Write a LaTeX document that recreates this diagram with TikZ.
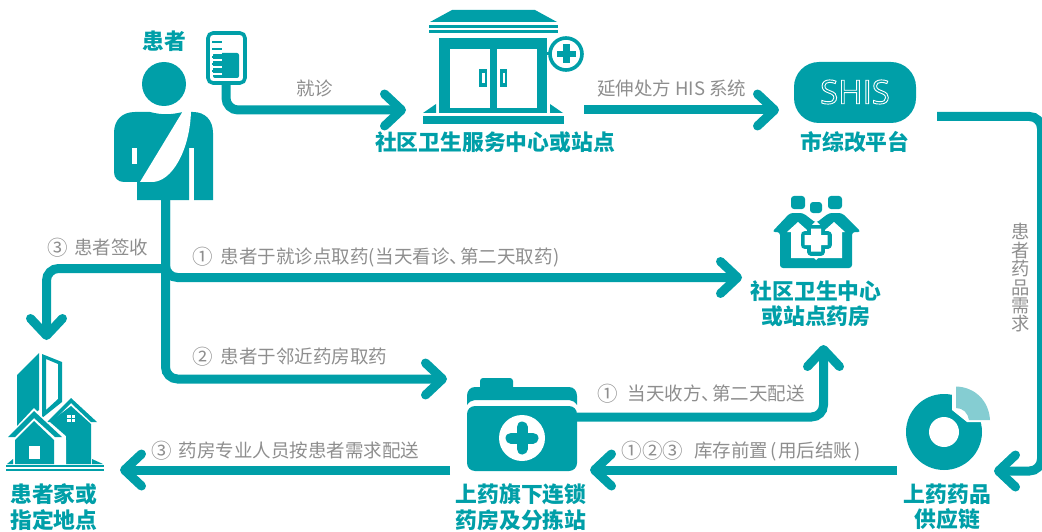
\documentclass[tikz,border=0pt]{standalone}
\usepackage{fontspec}
\setmainfont{Noto Sans CJK SC}
\newfontfamily\shisfont{Open Sans}
\usetikzlibrary{arrows.meta}
\definecolor{teal1}{HTML}{009FA8}
\definecolor{teal2}{HTML}{85CDD2}
\definecolor{gray1}{HTML}{8E8E8E}
\newcommand{\nb}[1]{\raisebox{-.8pt}{\fontsize{20.5}{20.5}\selectfont #1}}
\newcommand{\dun}{\makebox[10.5pt][l]{、}}
\newcommand{\crosspath}{(811,228.5) -- (821,228.5) -- (821,235) -- (827.5,235) -- (827.5,245) -- (821,245) -- (821,251.5) -- (811,251.5) -- (811,245) -- (804.5,245) -- (804.5,235) -- (811,235) -- cycle}
\tikzset{
  flow/.style={draw=teal1,line width=9pt,rounded corners=12pt,-{Straight Barb[length=17pt,width=32pt,round]}},
  plain/.style={draw=teal1,line width=9pt,rounded corners=12pt},
  title/.style={font=\bfseries\fontsize{21.8}{25.5}\selectfont,text=teal1,align=center,inner sep=0pt},
  note/.style={font=\fontsize{18.5}{20}\selectfont,text=gray1,inner sep=0pt,anchor=west},
  ico/.style={fill=teal1,draw=none},
  hole/.style={fill=white,draw=none}
}
\begin{document}
\begin{tikzpicture}[x=1pt,y=-1pt]
  \useasboundingbox (0,0) rectangle (1042,532);
  \coordinate (bagout) at (226,85);
  \coordinate (clinicin) at (406,110);
  \coordinate (clinicout) at (584,110);
  \coordinate (shisin) at (779,110);
  \coordinate (shisout) at (937,116.5);
  \coordinate (turn) at (1041.5,116.5);
  \coordinate (chainin) at (994,471);
  \coordinate (chainout) at (897,470);
  \coordinate (footout) at (165.5,200);
  \coordinate (forkup) at (165.5,268.5);
  \coordinate (homein) at (46.5,340);
  \coordinate (pharmin) at (742,277.5);
  \coordinate (drugin) at (447,379);
  \coordinate (drugout) at (577,417);
  \coordinate (pharmup) at (823.5,345);
  \coordinate (drugin2) at (590,470);
  \coordinate (drugleft) at (450,470);
  \coordinate (homeright) at (120,470);

  \draw[plain] (footout) -- (forkup);
  \draw[flow] (forkup) -| (homein);
  \draw[flow] (footout) |- (pharmin);
  \draw[flow] (footout) |- (drugin);
  \draw[flow] (bagout) |- (clinicin);
  \draw[flow] (clinicout) -- (shisin);
  \draw[flow] (shisout) -- (turn) |- (chainin);
  \draw[flow] (drugout) -| (pharmup);
  \draw[flow] (chainout) -- (drugin2);
  \draw[flow] (drugleft) -- (homeright);

  \fill[ico] (164,84) circle (22);
  \fill[ico] (137,200) -- (137,182) -- (124,182) .. controls (118,182) and (114,178) .. (114,172)
    -- (114,133) .. controls (114,120) and (122,112) .. (135,112) -- (150,112)
    .. controls (162,115) and (170,115) .. (183,112) -- (193,112)
    .. controls (205,112) and (213,120) .. (213,133) -- (213,200) -- (194,200) -- (194,148)
    -- (189,148) -- (189,200) -- cycle;
  \fill[hole] (132,148) rectangle (137,164);
  \fill[hole] (183,111) -- (191,111) .. controls (190,150) and (172,182) .. (152,182) -- (140,182) -- cycle;

  \draw[teal1,line width=3.6pt,fill=white,rounded corners=5pt] (208,33) rectangle (245,83);
  \fill[ico,rounded corners=2pt] (213,53) rectangle (239,78);
  \foreach \yy in {42,49,57,64,71} {
    \fill[ico] (212,\yy-1.2) rectangle (222,\yy+1.2);
  }
  \foreach \yy in {53.5,60.5,67.5,74.5} {
    \fill[hole] (212,\yy-1) rectangle (222,\yy+1);
  }

  \fill[ico] (430,22) -- (452,10) -- (535,10) -- (557,22) -- cycle;
  \fill[ico] (429,25) rectangle (558,28);
  \fill[ico] (429,30) rectangle (558,33);
  \fill[ico] (439,38) rectangle (547,113);
  \fill[hole] (450,49) rectangle (490,108);
  \fill[hole] (497,49) rectangle (537,108);
  \fill[ico] (479,69) rectangle (487,87);
  \fill[ico] (500,69) rectangle (507,87);
  \fill[hole] (481.5,73) rectangle (484.5,83);
  \fill[hole] (502.5,73) rectangle (505,83);
  \fill[ico] (423,116) rectangle (564,124);
  \fill[ico] (423,113) -- (436,104) -- (436,113) -- cycle;
  \fill[ico] (550,104) -- (563,113) -- (550,113) -- cycle;
  \fill[ico] (547,52.5) rectangle (552,55.5);
  \draw[teal1,line width=3.6pt,fill=white] (566,54) circle (16);
  \fill[ico] (563,44.5) rectangle (569.5,63.5);
  \fill[ico] (556.5,51) rectangle (575.5,57.5);

  \fill[ico,rounded corners=25pt] (794,62) rectangle (916,123);
  \node[font=\shisfont\fontsize{33}{33}\selectfont,text=white,inner sep=0pt] (shis) at (855,92)
    {\special{pdf:code 1 Tr 0.9 w}SHIS\special{pdf:code 0 Tr}};

  \fill[ico,rounded corners=3pt] (791,196) rectangle (805,209);
  \fill[ico,rounded corners=3pt] (810,202) rectangle (822,213);
  \fill[ico,rounded corners=3pt] (828,196) rectangle (842,209);
  \fill[ico,rounded corners=3pt] (772,232) -- (790,213) -- (803,213) -- (816,223) -- (829,213) -- (842,213)
    -- (861,232) -- (852,232) -- (852,268) -- (780,268) -- (780,232) -- cycle;
  \fill[hole] (787,232) -- (798,222) -- (816,238) -- (834,222) -- (845,232) -- (842,232) -- (842,258) -- (791,258) -- (791,232) -- cycle;
  \fill[hole] (816,221) -- (836,240) -- (816,260) -- (796,240) -- cycle;
  \draw[teal1,line width=8pt,line join=round] \crosspath;
  \fill[hole] \crosspath;

  \fill[ico] (17,375) -- (39,353) -- (39,410) -- (17,428) -- cycle;
  \fill[ico,even odd rule] (42,354) -- (62,362) -- (62,402) -- (42,418) -- cycle
    (46,359) -- (58,364) -- (58,399) -- (46,410) -- cycle;
  \fill[hole] (44,422) -- (71,395) -- (100,424) -- (100,466) -- (50,466) -- cycle;
  \fill[ico] (47,422) -- (71,398) -- (97,422) -- (91,422) -- (71,403) -- (52,422) -- cycle;
  \fill[ico] (71,406) -- (91,424) -- (91,464) -- (66,464) -- (66,436) -- (50,422) -- cycle;
  \fill[hole] (67,415) rectangle (75,422);
  \fill[ico] (70.5,415) rectangle (71.5,422);
  \fill[ico] (67,418) rectangle (75,419);
  \fill[hole] (4,440) -- (34,408) -- (66,440) -- (66,466) -- (8,466) -- cycle;
  \fill[ico] (8,437) -- (34,411) -- (62,437) -- (55,437) -- (34,418) -- (15,437) -- cycle;
  \fill[ico] (15,440) -- (34,421) -- (54,440) -- (54,464) -- (15,464) -- cycle;
  \fill[hole] (29,446) rectangle (40,459);
  \fill[ico] (6,465) rectangle (104,467);
  \fill[ico] (6,469) rectangle (104,471);
  \fill[ico] (7,464) -- (13,459) -- (13,464) -- cycle;
  \fill[ico] (92,459) -- (103,464) -- (92,464) -- cycle;

  \fill[ico,rounded corners=3pt] (480,378) rectangle (513,392);
  \fill[ico] (467,405) -- (467,396) .. controls (467,391) and (470,387) .. (475,387) -- (569,387)
    .. controls (574,387) and (577,391) .. (577,396) -- (577,405)
    .. controls (575,402) and (572,400) .. (569,400) -- (475,400) .. controls (472,400) and (469,402) .. (467,405) -- cycle;
  \fill[ico,rounded corners=8pt] (467,406) rectangle (577,471);
  \fill[hole] (522,438) circle (23);
  \draw[teal1,line width=11pt,line cap=round] (522,427) -- (522,449);
  \draw[teal1,line width=11pt,line cap=round] (511,438) -- (533,438);

  \fill[ico] (944,432) circle (38);
  \fill[hole] (944,432) circle (15);
  \fill[hole] (952,390) -- (952,410) -- (967,422) -- (985,422) -- (985,390) -- cycle;
  \fill[teal2] (956,386.5) .. controls (975,387) and (989,401) .. (990,420) -- (969,420)
    .. controls (968,413) and (963,408) .. (956,408) -- cycle;

  \node[title] (patient) at (164,41) {患者};
  \node[title] (clinic) at (495,142) {社区卫生服务中心或站点};
  \node[title] (platform) at (855,142) {市综改平台};
  \node[title] (pharmacy) at (816,304) {社区卫生中心\\或站点药房};
  \node[title] (home) at (54,507) {患者家或\\指定地点};
  \node[title] (drugstore) at (521,507) {上药旗下连锁\\药房及分拣站};
  \node[title] (chain) at (947.5,507) {上药药品\\供应链};

  \node[note] (visit) at (296,88) {就诊};
  \node[note] (his) at (597,88) {延伸处方 HIS 系统};
  \node[note] (sign) at (47.5,248) {\nb{③}\hspace{6pt}患者签收};
  \node[note] (self) at (192.5,257) {\nb{①}\hspace{7.5pt}患者于就诊点取药(\hspace{1pt}当天看诊\dun 第二天取药\hspace{1pt})};
  \node[note] (near) at (192.5,357) {\nb{②}\hspace{7.5pt}患者于邻近药房取药};
  \node[note] (next) at (597.5,394) {\nb{①}\hspace{9.5pt}当天收方\dun 第二天配送};
  \node[note] (stock) at (621.5,451) {\nb{①}\nb{②}\nb{③}\hspace{11pt}库存前置\hspace{2pt}(\hspace{2pt}用后结账\hspace{2pt})};
  \node[note] (deliver) at (151.5,451) {\nb{③}\hspace{6.5pt}药房专业人员按患者需求配送};
  \node[note,anchor=center,align=center,font=\fontsize{18.3}{18.4}\selectfont] (need) at (1021,278) {患\\者\\药\\品\\需\\求};
\end{tikzpicture}
\end{document}
